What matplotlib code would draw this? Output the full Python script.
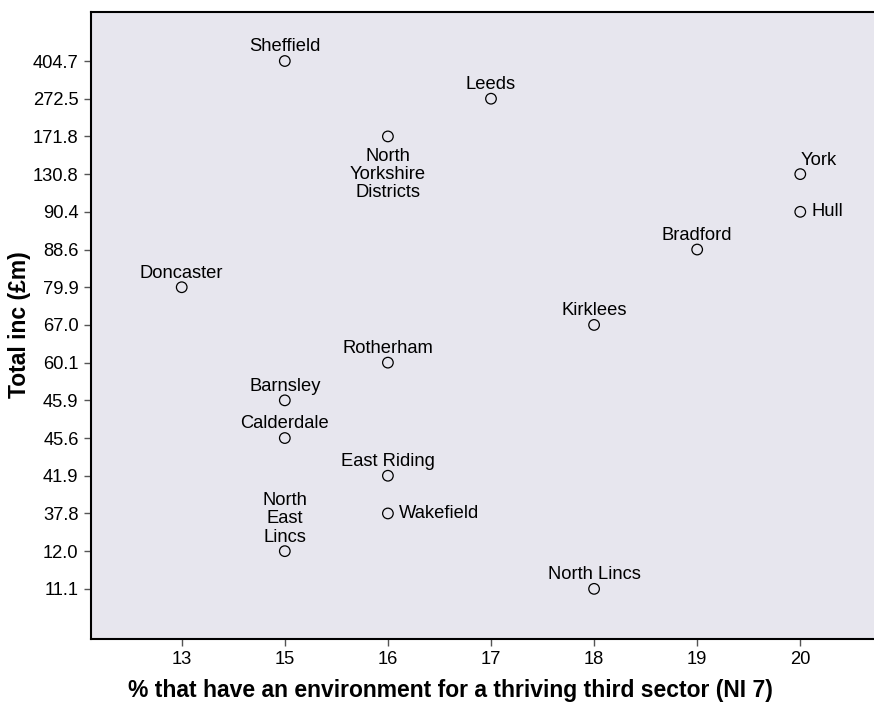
import matplotlib
matplotlib.use("Agg")
from matplotlib import pyplot as plt

plt.rcParams['font.family'] = ['Liberation Sans', 'DejaVu Sans']

# ordinal tick categories, as shown on the chart
x_cats = ['13', '15', '16', '17', '18', '19', '20']
y_cats = ['11.1', '12.0', '37.8', '41.9', '45.6', '45.9', '60.1', '67.0',
          '79.9', '88.6', '90.4', '130.8', '171.8', '272.5', '404.7']

names = ['Sheffield', 'Leeds', 'North\nYorkshire\nDistricts', 'York', 'Hull',
         'Bradford', 'Doncaster', 'Kirklees', 'Rotherham', 'Barnsley',
         'Calderdale', 'East Riding', 'Wakefield', 'North\nEast\nLincs',
         'North Lincs']
pct = ['15', '17', '16', '20', '20', '19', '13', '18', '16', '15', '15',
       '16', '16', '15', '18']
inc = ['404.7', '272.5', '171.8', '130.8', '90.4', '88.6', '79.9', '67.0',
       '60.1', '45.9', '45.6', '41.9', '37.8', '12.0', '11.1']
# label placement: 'up', 'down', 'right', 'upright'
place = ['up', 'up', 'down', 'upright', 'right', 'up', 'up', 'up', 'up',
         'up', 'up', 'up', 'right', 'up', 'up']

xs = [x_cats.index(v) for v in pct]
ys = [y_cats.index(v) for v in inc]

fig = plt.figure(figsize=(8.74, 7.08), dpi=100)
ax = fig.add_axes([91 / 874, 1 - 639 / 708, 1 - 91 / 874 + 0.01, (639 - 12) / 708])
ax.set_facecolor('#e7e6ee')

ax.scatter(xs, ys, s=58, facecolors='none', edgecolors='black', linewidths=0.9, zorder=3)

fs = 13.2
for x, y, n, p in zip(xs, ys, names, place):
    if p == 'up':
        ax.annotate(n, (x, y), xytext=(0, 4), textcoords='offset points',
                    ha='center', va='bottom', fontsize=fs, linespacing=1.1)
    elif p == 'upright':
        ax.annotate(n, (x, y), xytext=(0, 4), textcoords='offset points',
                    ha='left', va='bottom', fontsize=fs)
    elif p == 'down':
        ax.annotate(n, (x, y), xytext=(0, -8), textcoords='offset points',
                    ha='center', va='top', fontsize=fs, linespacing=1.1)
    else:
        ax.annotate(n, (x, y), xytext=(8, 0), textcoords='offset points',
                    ha='left', va='center', fontsize=fs)

ax.set_xticks(range(len(x_cats)))
ax.set_xticklabels(x_cats, fontsize=fs)
ax.set_yticks(range(len(y_cats)))
ax.set_yticklabels(y_cats, fontsize=fs)
ax.set_xlim(-0.88, 6.8)
ax.set_ylim(-1.33, 15.3)

ax.spines['right'].set_visible(False)
for s in ['left', 'top', 'bottom']:
    ax.spines[s].set_linewidth(1.5)
ax.tick_params(axis='both', direction='out', length=5, width=1, color='#555555', pad=4)

fig.text(20 / 874, 1 - 325 / 708, 'Total inc (£m)', rotation=90, ha='center', va='center',
         fontsize=16.5, fontweight='bold')
fig.text(450 / 874, 1 - 690 / 708, '% that have an environment for a thriving third sector (NI 7)',
         ha='center', va='center', fontsize=16.5, fontweight='bold')

fig.savefig('out.png', dpi=100)
